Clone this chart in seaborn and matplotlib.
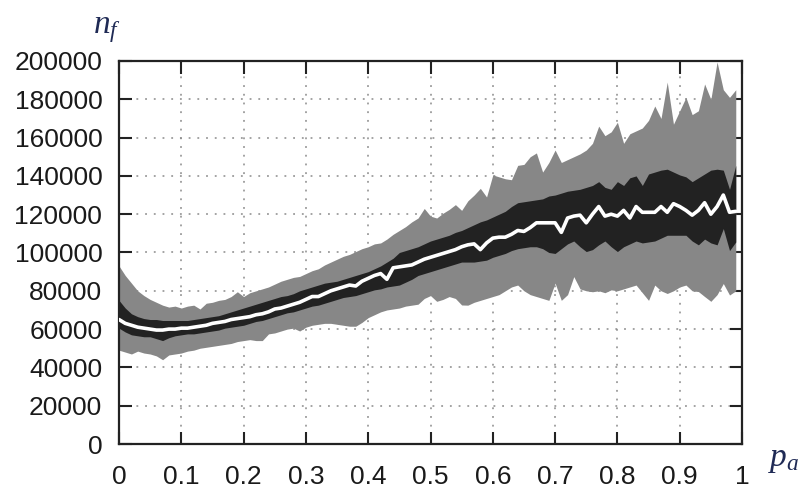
import numpy as np
import pandas as pd
import matplotlib
matplotlib.use("Agg")
import matplotlib.pyplot as plt
import seaborn as sns

# x positions (p_a)
p_a = [round(i * 0.01, 2) for i in range(100)]

# median (thousands)
median_k = [65, 63, 62, 61, 60.5, 60, 59.5, 59.5, 60, 60,
            60.5, 60.5, 61, 61.5, 62, 63, 63.5, 64, 65, 65.5,
            66, 66.5, 67.5, 68, 69, 70.5, 71, 72, 73, 74,
            75.5, 77, 77, 78.5, 80, 81, 82, 83, 82.5, 85,
            86.5, 88, 89, 86, 92, 92.5, 93, 93.5, 95, 96.5,
            97.5, 98.5, 99.5, 100.5, 101.5, 103, 104, 104.5, 101.5, 105,
            107.5, 108, 108, 109.5, 111.5, 111, 113, 115.5, 115.5, 115.5,
            115.5, 110.5, 118, 119, 119.5, 115.5, 120, 124, 119, 120,
            119, 122, 118, 124, 121, 121, 121, 124, 121, 125.5,
            124, 122, 119.5, 122, 126, 120, 124, 130, 121, 121.5]

# inner band (dark) upper / lower (thousands)
inner_hi_k = [75, 71, 68, 66.5, 65.5, 65, 65, 64.5, 64.5, 64.5,
              64.5, 64.5, 65, 65.5, 66, 66.5, 67, 68, 69, 70,
              71, 72, 73, 74, 75, 76, 77, 77.5, 78.5, 80,
              81, 82, 83, 84, 84.5, 85, 86, 87, 88, 89,
              90, 91.5, 93, 95, 97, 100, 101, 102, 103, 104.5,
              106, 107, 108, 109, 110.5, 111.5, 113, 114.5, 116, 117,
              118.5, 120, 121.5, 124, 126, 126.5, 127, 127.5, 128, 129.5,
              130, 131, 132, 132.5, 133, 134, 135, 137, 134, 133,
              137, 135, 139, 140, 135, 141, 142, 143, 143.5, 142,
              140.5, 139.5, 137, 139, 141, 143, 143.5, 143, 133, 145.5]
inner_lo_k = [60.5, 58.5, 57, 56.5, 56, 56, 55, 54, 55.5, 56.5,
              57, 57.5, 57.5, 58, 58.5, 59, 59.5, 60.5, 61, 61.5,
              62, 63, 64, 64.5, 65.5, 66.5, 67.5, 68.5, 69, 70,
              71, 72, 72.5, 73.5, 74.5, 75.5, 76.5, 77, 77.5, 78.5,
              79.5, 80.5, 81, 82, 82.5, 83, 84.5, 86, 88, 89,
              90, 91, 92, 93, 94, 95, 95, 95, 95.5, 96,
              97.5, 98.5, 99.5, 101, 102, 102.5, 103, 103, 102, 100,
              99.5, 102, 104.5, 106, 103, 100.5, 101.5, 104, 106, 103,
              100.5, 103, 104.5, 106, 105, 105.5, 106, 107.5, 109, 109,
              109, 109, 106, 104, 107, 105, 104, 112.5, 101, 105.5]

# outer band (gray) upper / lower (thousands)
outer_hi_k = [93, 88, 84, 80, 77.5, 75.5, 74, 72.5, 71.5, 72,
              71, 72, 72.5, 70.5, 73.5, 74, 75, 75.5, 77, 79.5,
              77, 79, 80, 81, 82, 83.5, 85, 86, 87, 87.5,
              89, 90.5, 91.5, 93.5, 95, 96.5, 98, 99, 100.5, 102,
              103, 104.5, 105, 107, 109.5, 111.5, 113.5, 116, 118, 123,
              119, 118, 120.5, 122.5, 125, 122, 127, 130, 133.5, 129,
              140.5, 139.5, 138.5, 138, 145.5, 146, 150, 152, 142, 147,
              153.5, 147, 148.5, 150, 151.5, 153.5, 157, 166, 161, 163,
              168, 157, 162, 163.5, 165, 169, 176.5, 170, 189, 167,
              174, 181, 172, 174, 188, 180, 199.5, 185, 181, 185]
outer_lo_k = [49, 48, 47, 48.5, 47.5, 47, 46, 44, 46.5, 47,
              47.5, 48.5, 49, 50, 50.5, 51, 51.5, 52, 52.5, 53.5,
              54, 54.5, 54, 54, 57.5, 58, 59, 60, 60.5, 59,
              61, 62, 62.5, 63, 63, 62.5, 62, 61.5, 61.5, 63.5,
              66, 67.5, 69, 70, 70.5, 71, 72, 72.5, 73, 76,
              77.5, 74.5, 75.5, 77, 76, 72.6, 72.5, 74, 75, 76,
              77, 78, 80, 82, 83, 80, 78, 77, 76, 75,
              84, 75, 78, 87.4, 81, 80, 79.5, 80, 79, 80.5,
              80, 81, 82, 83, 79, 75, 83, 80, 78.6, 80,
              82, 83, 80, 79.6, 77, 74.5, 78, 83.8, 77.8, 80]

x_ticks = [0, 0.1, 0.2, 0.3, 0.4, 0.5, 0.6, 0.7, 0.8, 0.9, 1]
x_tick_labels = ["0", "0.1", "0.2", "0.3", "0.4", "0.5", "0.6", "0.7", "0.8", "0.9", "1"]
y_ticks = [0, 20000, 40000, 60000, 80000, 100000, 120000, 140000, 160000, 180000, 200000]
y_tick_labels = [str(v) for v in y_ticks]

df = pd.DataFrame({
    "p_a": p_a,
    "median": np.array(median_k) * 1000,
    "in_hi": np.array(inner_hi_k) * 1000,
    "in_lo": np.array(inner_lo_k) * 1000,
    "out_hi": np.array(outer_hi_k) * 1000,
    "out_lo": np.array(outer_lo_k) * 1000,
})

sns.set_theme(style="white")
plt.rcParams["font.family"] = ["Liberation Sans", "DejaVu Sans"]
plt.rcParams["mathtext.fontset"] = "custom"
plt.rcParams["mathtext.it"] = "Liberation Serif:italic"
plt.rcParams["mathtext.rm"] = "Liberation Serif"

fig = plt.figure(figsize=(8.05, 4.92), dpi=100)
ax = fig.add_axes([119 / 805, 48 / 492, 623 / 805, 383 / 492])

ax.set_axisbelow(True)
ax.grid(True, color="#8a8a8a", linestyle=(0, (1.2, 4.5)), linewidth=1.1)

ax.fill_between(df["p_a"], df["out_lo"], df["out_hi"], color="#878787", linewidth=0, zorder=2)
ax.fill_between(df["p_a"], df["in_lo"], df["in_hi"], color="#222222", linewidth=0, zorder=3)
sns.lineplot(data=df, x="p_a", y="median", ax=ax, color="white", linewidth=2.6, zorder=4)

ax.set_xlim(0, 1)
ax.set_ylim(0, 200000)
ax.set_xticks(x_ticks)
ax.set_xticklabels(x_tick_labels)
ax.set_yticks(y_ticks)
ax.set_yticklabels(y_tick_labels)
ax.set_xlabel("")
ax.set_ylabel("")

ax.tick_params(axis="both", which="major", direction="in", length=9, width=1.5,
               color="#222222", labelsize=19, labelcolor="#1a1a1a",
               top=True, right=True, bottom=True, left=True)
ax.tick_params(axis="x", pad=15)
ax.tick_params(axis="y", pad=12)

for s in ax.spines.values():
    s.set_visible(True)
    s.set_color("#222222")
    s.set_linewidth(1.6)

fig.text(93 / 805, 1 - 33 / 492, r"$n_f$", fontsize=24, color="#1f2a55", ha="left", va="baseline")
fig.text(768 / 805, 1 - 466 / 492, r"$p_a$", fontsize=24, color="#1f2a55", ha="left", va="baseline")

fig.savefig("out.png", dpi=100)
